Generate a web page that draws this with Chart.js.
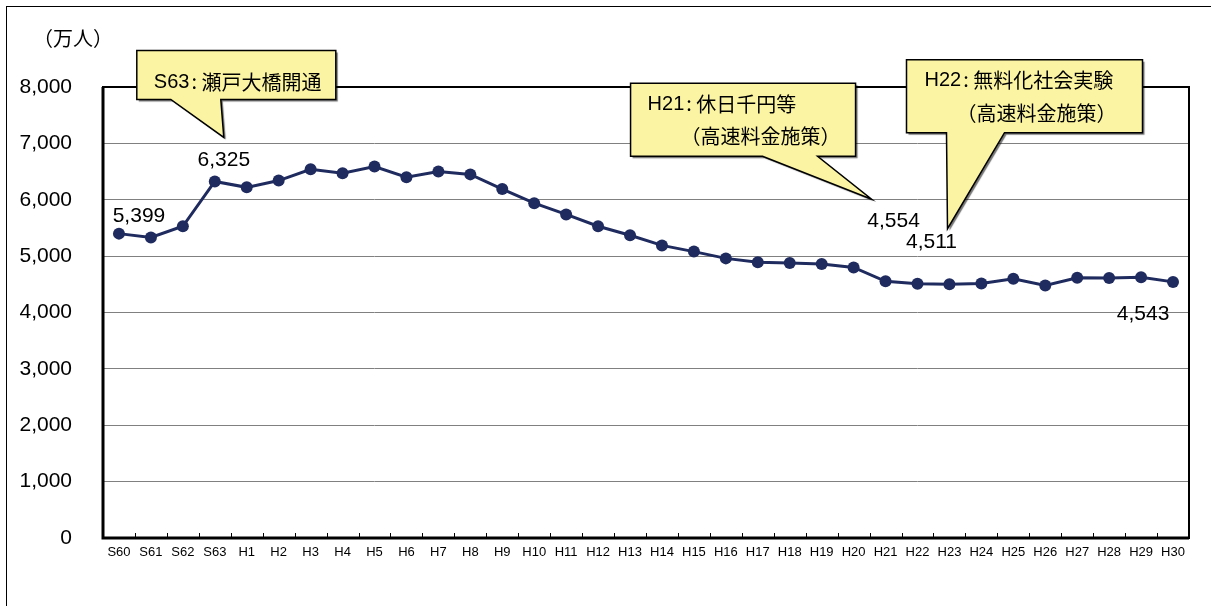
<!DOCTYPE html>
<html>
<head>
<meta charset="utf-8">
<script src="https://cdn.jsdelivr.net/npm/chart.js@4.4.0/dist/chart.umd.min.js"></script>
<style>
  html, body { margin: 0; padding: 0; background: #fff; }
  #wrap { position: relative; width: 1211px; height: 606px; overflow: hidden; }
  #frame { position: absolute; left: 6px; top: 6px; width: 1300px; height: 700px; border-left: 1px solid #000; border-top: 1px solid #000; }
  canvas { position: absolute; left: 0; top: 0; }
</style>
</head>
<body>
<div id="wrap">
  <div id="frame"></div>
  <canvas id="myChart" width="1211" height="606"></canvas>
</div>
<script>
const years = ['S60', 'S61', 'S62', 'S63',
  'H1', 'H2', 'H3', 'H4', 'H5', 'H6', 'H7', 'H8', 'H9', 'H10',
  'H11', 'H12', 'H13', 'H14', 'H15', 'H16', 'H17', 'H18', 'H19', 'H20',
  'H21', 'H22', 'H23', 'H24', 'H25', 'H26', 'H27', 'H28', 'H29', 'H30'];

// 万人
const visitors = [5399, 5330, 5530, 6325,
  6220, 6340, 6540, 6470, 6590, 6400, 6500, 6450, 6190, 5940,
  5740, 5530, 5370, 5190, 5080, 4960, 4890, 4880, 4860, 4800,
  4554, 4511, 4500, 4515, 4600, 4480, 4615, 4610, 4625, 4543];

const yTicks = [0, 1000, 2000, 3000, 4000, 5000, 6000, 7000, 8000];

// which points get a number written next to them
const labelled = [0, 3, 24, 25, 33];
const labelShift = { 0: [20, -17], 3: [9, -21], 24: [8, -60], 25: [14, -41], 33: [-30, 32] };

// callouts: tip is offset from the point, everything else from the tip
const callouts = [
  { at: 3, tip: [9, -44], box: [-87, -87, 112, -38], base: [-53, -3],
    lines: [['S63', '瀬戸大橋開通', -70, -55]] },
  { at: 24, tip: [-14, -82], box: [-241, -116, -16, -43], base: [-109, -54],
    lines: [['H21', '休日千円等', -224, -95], ['', '（高速料金施策）', -191, -63]] },
  { at: 25, tip: [30, -55], box: [-41, -169, 195, -96], base: [-1, 57],
    lines: [['H22', '無料化社会実験', -23, -148], ['', '（高速料金施策）', 9, -115]] }
];

const fmt = v => v.toLocaleString('en-US');
const jpFont = '"Noto Sans CJK JP", "Liberation Sans", sans-serif';
const numFont = '"Liberation Sans", Arial, sans-serif';
const narrowFont = '"Liberation Sans Narrow", "Liberation Sans", sans-serif';

const decor = {
  id: 'decor',
  afterDatasetsDraw(chart) {
    const ctx = chart.ctx;
    const a = chart.chartArea;
    const xs = chart.scales.x;
    const pts = chart.getDatasetMeta(0).data;

    // plot frame
    ctx.save();
    ctx.strokeStyle = '#000';
    ctx.lineWidth = 2;
    ctx.strokeRect(a.left, a.top, a.right - a.left, a.bottom - a.top);
    ctx.lineWidth = 3;
    ctx.beginPath();
    ctx.moveTo(a.left, a.top);
    ctx.lineTo(a.left, a.bottom);
    ctx.lineTo(a.right, a.bottom);
    ctx.stroke();

    // small inward ticks between categories
    ctx.lineWidth = 1;
    ctx.beginPath();
    for (let i = 1; i < years.length; i++) {
      const x = Math.round((xs.getPixelForValue(i - 1) + xs.getPixelForValue(i)) / 2) + 0.5;
      ctx.moveTo(x, a.bottom);
      ctx.lineTo(x, a.bottom - 5);
    }
    ctx.stroke();

    // value labels
    ctx.fillStyle = '#000';
    ctx.font = '21px ' + numFont;
    ctx.textAlign = 'center';
    ctx.textBaseline = 'middle';
    labelled.forEach(i => {
      const p = pts[i];
      const s = labelShift[i];
      ctx.fillText(fmt(visitors[i]), p.x + s[0], p.y + s[1]);
    });

    // y unit
    ctx.textAlign = 'left';
    ctx.font = '20px ' + jpFont;
    ctx.fillText('（万人）', 33, 38);

    // callouts
    callouts.forEach(c => {
      const p = pts[c.at];
      const ox = p.x + c.tip[0], oy = p.y + c.tip[1];
      const [l, t, r, b] = [ox + c.box[0], oy + c.box[1], ox + c.box[2], oy + c.box[3]];
      const b1 = ox + c.base[0], b2 = ox + c.base[1];
      ctx.beginPath();
      ctx.moveTo(l, t);
      ctx.lineTo(r, t);
      ctx.lineTo(r, b);
      ctx.lineTo(b2, b);
      ctx.lineTo(ox, oy);
      ctx.lineTo(b1, b);
      ctx.lineTo(l, b);
      ctx.closePath();
      ctx.save();
      ctx.shadowColor = 'rgba(0,0,0,0.55)';
      ctx.shadowOffsetX = 2;
      ctx.shadowOffsetY = 2;
      ctx.shadowBlur = 1;
      ctx.fillStyle = '#FBF4A2';
      ctx.fill();
      ctx.restore();
      ctx.strokeStyle = '#000';
      ctx.lineWidth = 1.5;
      ctx.stroke();
      ctx.fillStyle = '#000';
      ctx.textAlign = 'left';
      c.lines.forEach(ln => {
        let x = ox + ln[2];
        const y = oy + ln[3];
        if (ln[0]) {
          ctx.font = '20px ' + narrowFont;
          ctx.fillText(ln[0], x, y);
          x += ctx.measureText(ln[0]).width + 2;
          ctx.font = '20px ' + jpFont;
          ctx.fillText(':', x, y - 1);
          x += 10;
        }
        ctx.font = '20px ' + jpFont;
        ctx.fillText(ln[1], x, y);
      });
    });
    ctx.restore();
  }
};

new Chart(document.getElementById('myChart'), {
  type: 'line',
  data: {
    labels: years,
    datasets: [{
      data: visitors,
      borderColor: '#1F2B5E',
      backgroundColor: '#1F2B5E',
      borderWidth: 3,
      pointRadius: 6,
      pointBackgroundColor: '#1F2B5E',
      pointBorderWidth: 0,
      tension: 0
    }]
  },
  options: {
    responsive: false,
    animation: false,
    devicePixelRatio: 1,
    layout: { padding: { left: 0, top: 87, right: 22, bottom: 0 } },
    plugins: { legend: { display: false }, tooltip: { enabled: false } },
    scales: {
      x: {
        offset: true,
        grid: { display: false, drawTicks: false },
        border: { display: false },
        ticks: {
          color: '#000', autoSkip: false, maxRotation: 0, padding: 7,
          font: { family: numFont, size: 13 }
        },
        afterFit: s => { s.height = 68; }
      },
      y: {
        min: 0, max: 8000,
        afterBuildTicks: s => { s.ticks = yTicks.map(v => ({ value: v })); },
        grid: { color: '#808080', lineWidth: 1, drawTicks: false },
        border: { display: false },
        ticks: {
          color: '#000', padding: 31,
          font: { family: numFont, size: 21 },
          callback: v => fmt(v)
        },
        afterFit: s => { s.width = 103; }
      }
    }
  },
  plugins: [decor]
});
</script>
</body>
</html>
